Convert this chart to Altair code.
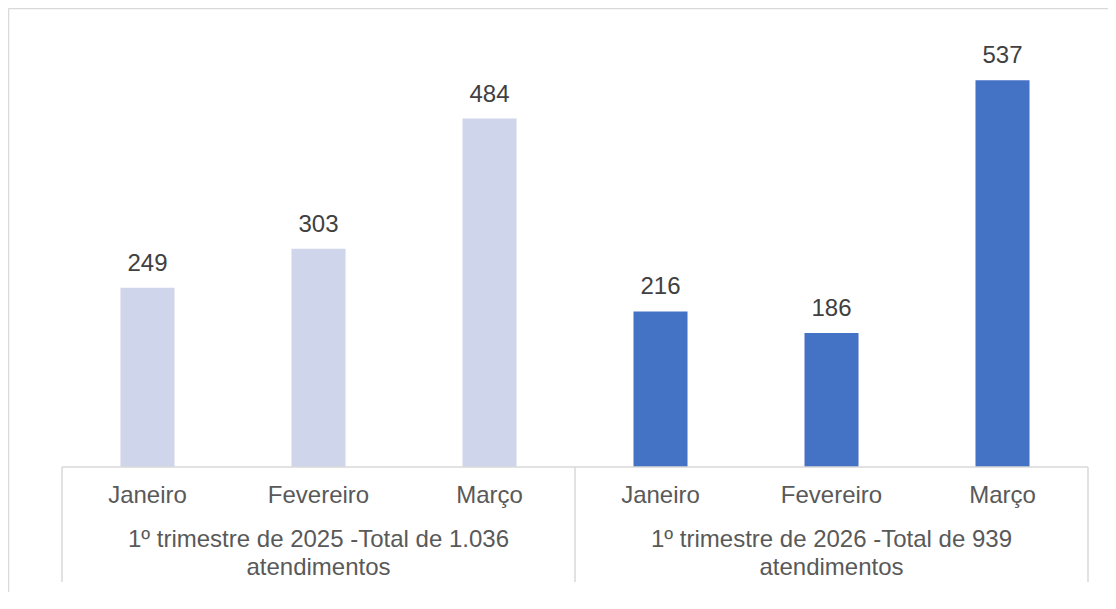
import altair as alt
import pandas as pd

# ---- data ----
months = ["Janeiro", "Fevereiro", "Março", "Janeiro", "Fevereiro", "Março"]
years = ["2025", "2025", "2025", "2026", "2026", "2026"]
values = [249, 303, 484, 216, 186, 537]

group_years = ["2025", "2026"]
group_labels = [
    "1º trimestre de 2025 -Total de 1.036\natendimentos",
    "1º trimestre de 2026 -Total de 939\natendimentos",
]
group_center_month = "Fevereiro"
separator_index = [0, 3, 6]  # category boundaries (index units)
year_colors = ["#CFD5EA", "#4472C4"]

# ---- tables ----
keys = [f"{y}|{m}" for y, m in zip(years, months)]
df = pd.DataFrame({"key": keys, "year": years, "month": months, "value": values})
gdf = pd.DataFrame({
    "key": [f"{y}|{group_center_month}" for y in group_years],
    "label": group_labels,
})
sdf = pd.DataFrame({"pos": separator_index})
dummy = pd.DataFrame({"d": [0]})

W, H = 1026, 432
FONT = "Liberation Sans"
GRID = "#D9D9D9"

x_band = alt.X("key:N", scale=alt.Scale(domain=keys, paddingInner=0.684, paddingOuter=0.342), axis=None)
y_val = alt.Y("value:Q", scale=alt.Scale(domain=[0, 600]), axis=None)

bars = alt.Chart(df).mark_bar().encode(
    x=x_band,
    y=y_val,
    color=alt.Color("year:N", scale=alt.Scale(domain=group_years, range=year_colors), legend=None),
)

value_labels = alt.Chart(df).mark_text(
    baseline="alphabetic", dy=-17, fontSize=24, font=FONT, color="#404040"
).encode(x=x_band, y=y_val, text="value:Q")

month_labels = alt.Chart(df).mark_text(
    baseline="alphabetic", fontSize=24, font=FONT, color="#595959"
).encode(x=x_band, y=alt.value(H + 36), text="month:N")

group_text = alt.Chart(gdf).mark_text(
    baseline="alphabetic", fontSize=24, font=FONT, color="#595959", lineBreak="\n", lineHeight=28
).encode(x=x_band, y=alt.value(H + 79.5), text="label:N")

axis_line = alt.Chart(dummy).mark_rule(color=GRID, strokeWidth=1.5).encode(
    y=alt.datum(0, scale=alt.Scale(domain=[0, 600]))
)

separators = alt.Chart(sdf).mark_rule(color=GRID, strokeWidth=1.5).encode(
    x=alt.X("pos:Q", scale=alt.Scale(domain=[0, 6]), axis=None),
    y=alt.value(H),
    y2=alt.value(H + 115),
)

border_top = alt.Chart(dummy).mark_rule(color=GRID, strokeWidth=1.5).encode(
    x=alt.value(-53.5), x2=alt.value(W + 20), y=alt.value(-26.5)
)
border_left = alt.Chart(dummy).mark_rule(color=GRID, strokeWidth=1.5).encode(
    x=alt.value(-53.5), y=alt.value(-26.5), y2=alt.value(H + 125)
)

chart = alt.layer(
    border_top, border_left, bars, value_labels, month_labels, group_text, axis_line, separators
).resolve_scale(x="independent").properties(
    width=W,
    height=H,
    autosize=alt.AutoSizeParams(type="none"),
    padding={"left": 54, "top": 27, "right": 20, "bottom": 125},
    background="white",
).configure_view(stroke=None)

chart.save("out.html", embed_options={"renderer": "svg", "actions": False})
